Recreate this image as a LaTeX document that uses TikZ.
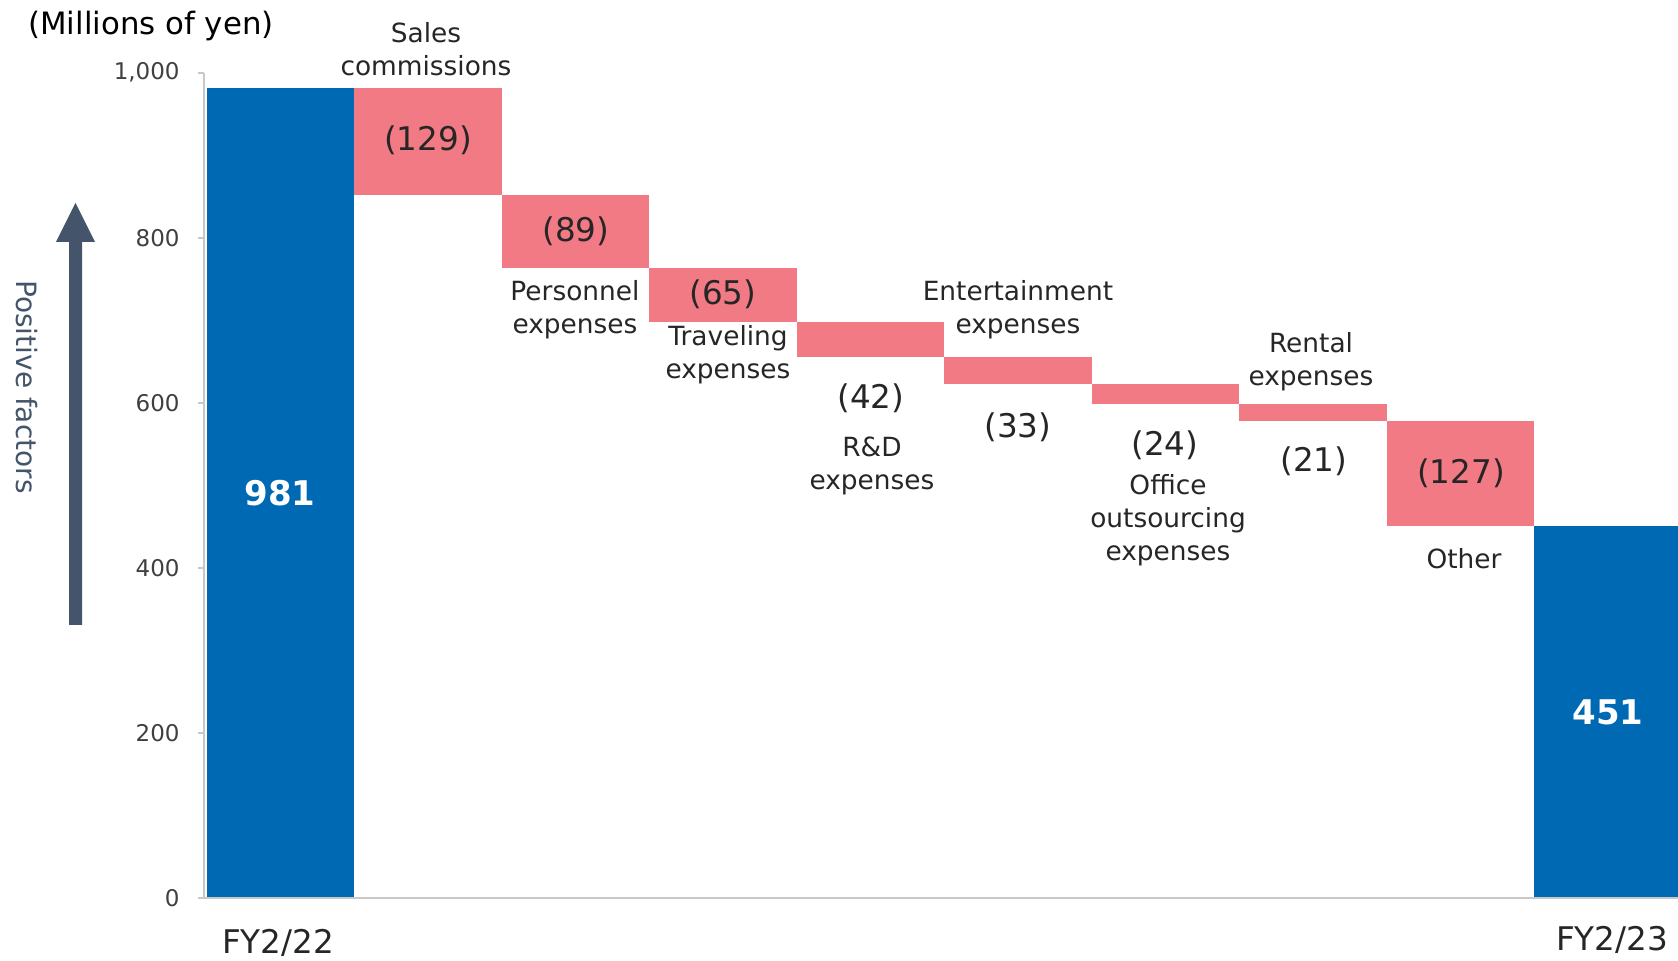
\documentclass[tikz,border=0pt]{standalone}
\usepackage{fontspec}
\setmainfont{DejaVu Sans}
\definecolor{barblue}{HTML}{0069B4}
\definecolor{barpink}{HTML}{F27A84}
\definecolor{arrowcol}{HTML}{44546A}
\definecolor{txt}{HTML}{262626}
\definecolor{axisgray}{HTML}{C8C8C8}
\definecolor{ticktxt}{HTML}{404040}
\newcommand{\vy}[1]{898-0.8252*#1}
\begin{document}
\begin{tikzpicture}[x=0.5pt,y=-0.5pt,
  lbl/.style={font=\fontsize{13.2}{16.5}\selectfont, text=txt, align=center, inner sep=0},
  val/.style={font=\fontsize{16.3}{19}\selectfont, text=txt, inner sep=0},
  big/.style={font=\fontsize{17}{20}\selectfont\bfseries, text=white, inner sep=0},
  ticklbl/.style={font=\fontsize{11.5}{13}\selectfont, text=ticktxt, anchor=east, inner sep=0},
  fy/.style={font=\fontsize{16.3}{19}\selectfont, text=txt, inner sep=0}]
\useasboundingbox (0,0) rectangle (1678,961);
\begin{scope}
\clip (0,0) rectangle (1678,961);
% bars
\fill[barblue] (206.5,{\vy{0}}) rectangle (354,{\vy{981}});
\fill[barpink] (354,{\vy{852}}) rectangle (501.5,{\vy{981}});
\fill[barpink] (501.5,{\vy{763}}) rectangle (649,{\vy{852}});
\fill[barpink] (649,{\vy{698}}) rectangle (796.5,{\vy{763}});
\fill[barpink] (796.5,{\vy{656}}) rectangle (944,{\vy{698}});
\fill[barpink] (944,{\vy{623}}) rectangle (1091.5,{\vy{656}});
\fill[barpink] (1091.5,{\vy{599}}) rectangle (1239,{\vy{623}});
\fill[barpink] (1239,{\vy{578}}) rectangle (1386.5,{\vy{599}});
\fill[barpink] (1386.5,{\vy{451}}) rectangle (1534,{\vy{578}});
\fill[barblue] (1534,{\vy{0}}) rectangle (1690,{\vy{451}});
% axes
\draw[axisgray, line width=1.2pt] (198,898) -- (1690,898);
\draw[axisgray, line width=0.8pt] (204,{\vy{1000}}) -- (204,898);
\foreach \v in {0,200,400,600,800,1000}
  \draw[axisgray, line width=0.8pt] (198,{\vy{\v}}) -- (204,{\vy{\v}});
\end{scope}
% tick labels
\node[ticklbl] (t0) at (180,{\vy{0}}) {0};
\node[ticklbl] (t200) at (180,{\vy{200}}) {200};
\node[ticklbl] (t400) at (180,{\vy{400}}) {400};
\node[ticklbl] (t600) at (180,{\vy{600}}) {600};
\node[ticklbl] (t800) at (180,{\vy{800}}) {800};
\node[ticklbl] (t1000) at (180,{\vy{1000}}) {1,000};
% title
\node[font=\fontsize{15.4}{18}\selectfont, text=black, inner sep=0] (title) at (151,26) {(Millions of yen)};
% positive factors arrow
\fill[arrowcol] (69,625) -- (69,242) -- (56,242) -- (75.5,203) -- (95,242) -- (82,242) -- (82,625) -- cycle;
\node[font=\fontsize{14}{16}\selectfont, text=arrowcol, rotate=-90, inner sep=0] (pos) at (26.5,387) {Positive factors};
% values
\node[big] (v981) at (280,493) {981};
\node[big] (v451) at (1608,712) {451};
\node[val] (v129) at (428,140) {(129)};
\node[val] (v89) at (576,231) {(89)};
\node[val] (v65) at (723,294) {(65)};
\node[val] (v42) at (871,398) {(42)};
\node[val] (v33) at (1018,427) {(33)};
\node[val] (v24) at (1165,445) {(24)};
\node[val] (v21) at (1314,461) {(21)};
\node[val] (v127) at (1461,473) {(127)};
% category labels
\node[lbl] (l1) at (426,49.5) {Sales\\commissions};
\node[lbl] (l2) at (575,309.5) {Personnel\\expenses};
\node[lbl] (l3) at (728,354.5) {Traveling\\expenses};
\node[lbl] (l4) at (872,466) {R\&D\\expenses};
\node[lbl] (l5) at (1018,309.5) {Entertainment\\expenses};
\node[lbl] (l6) at (1168,520) {Office\\outsourcing\\expenses};
\node[lbl] (l7) at (1311,361.5) {Rental\\expenses};
\node[lbl] (l8) at (1464,559) {Other};
% fiscal years
\node[fy] (fy22) at (278,943) {FY2/22};
\node[fy] (fy23) at (1612,940) {FY2/23};
\end{tikzpicture}
\end{document}
